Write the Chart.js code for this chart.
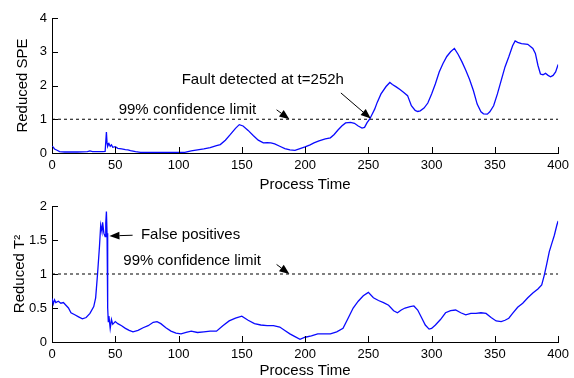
<!DOCTYPE html>
<html><head><meta charset="utf-8">
<script src="https://cdn.jsdelivr.net/npm/chart.js@4"></script>
<style>
html,body{margin:0;padding:0;background:#fff;}
#w{position:relative;width:574px;height:378px;overflow:hidden;}
canvas{position:absolute;left:0;}
</style></head><body>
<div id="w">
<canvas id="c1" width="574" height="192" style="top:0"></canvas>
<canvas id="c2" width="574" height="186" style="top:192px"></canvas>
</div>
<script>
// ---- data ----
const speTime = [0,1,2,4,6,10,20,28,30,32,40,42,43,43.5,44,45,46,47,48,50,52,55,58,60,62,66,70,80,100,105,110,115,120,125,130,133,137,141,145,148,151,155,159,163,167,170,173,176,180,184,188,192,196,200,204,207,211,216,220,223,226,229,232,236,239,242,245,247,249,251,253,255,257,260,264,267,269,272,275,278,281,284,287,289,291,294,297,300,303,306,309,312,315,318,321,324,327,330,333,336,339,341,344,346,349,352,355,358,361,364,366,368,371,376,380,382,384,386,388,390,392,394,396,398,400];
const speVal  = [0.20,0.17,0.12,0.08,0.04,0.03,0.03,0.04,0.06,0.04,0.04,0.05,0.62,0.30,0.20,0.28,0.20,0.24,0.17,0.19,0.14,0.12,0.10,0.09,0.07,0.04,0.02,0.02,0.02,0.02,0.06,0.09,0.12,0.16,0.22,0.25,0.38,0.55,0.73,0.84,0.80,0.67,0.52,0.38,0.30,0.31,0.30,0.27,0.20,0.13,0.09,0.08,0.13,0.18,0.24,0.30,0.36,0.42,0.45,0.55,0.68,0.80,0.89,0.91,0.88,0.80,0.74,0.76,0.90,1.00,1.15,1.30,1.50,1.75,1.97,2.09,2.03,1.96,1.88,1.79,1.70,1.40,1.26,1.23,1.25,1.33,1.48,1.75,2.05,2.40,2.65,2.86,3.00,3.10,2.92,2.70,2.45,2.18,1.85,1.45,1.22,1.16,1.15,1.22,1.40,1.75,2.15,2.55,2.85,3.18,3.32,3.28,3.24,3.22,3.10,2.95,2.60,2.34,2.32,2.36,2.30,2.26,2.30,2.40,2.62];

const t2Time = [0,1,2,3,5,7,9,11,13,15,18,21,24,27,30,33,34.5,36,37.5,38.5,39.5,40,41,42,42.5,43,43.5,44,44.5,45,46,47,48,50,52,55,58,61,64,68,72,76,80,83,86,90,94,98,102,106,110,115,120,125,130,135,140,145,150,155,160,165,170,175,180,184,188,192,196,200,205,210,215,220,225,230,234,238,242,246,250,254,258,262,266,270,273,276,279,283,286,289,292,295,298,300,303,307,311,315,319,323,327,331,335,339,343,347,351,355,358,361,364,368,372,376,380,384,387,389,391,393,395,397,399,400];
const t2Val  = [0.64,0.56,0.62,0.58,0.60,0.57,0.58,0.54,0.50,0.43,0.40,0.37,0.34,0.36,0.42,0.52,0.65,1.00,1.40,1.72,1.62,1.76,1.60,1.55,1.75,1.92,1.60,0.50,0.30,0.38,0.20,0.33,0.26,0.30,0.27,0.24,0.20,0.17,0.15,0.17,0.21,0.24,0.29,0.30,0.27,0.21,0.16,0.13,0.12,0.14,0.16,0.14,0.15,0.16,0.16,0.24,0.31,0.35,0.38,0.32,0.27,0.25,0.24,0.24,0.22,0.17,0.12,0.08,0.04,0.07,0.09,0.12,0.12,0.12,0.15,0.20,0.35,0.50,0.60,0.68,0.73,0.65,0.61,0.58,0.54,0.46,0.43,0.47,0.50,0.52,0.53,0.47,0.36,0.25,0.19,0.20,0.25,0.33,0.43,0.46,0.47,0.43,0.40,0.42,0.42,0.43,0.42,0.36,0.31,0.30,0.32,0.35,0.42,0.51,0.57,0.65,0.72,0.78,0.84,0.98,1.15,1.33,1.45,1.57,1.72,1.78];

const confLimit = 1;
const xTicks = [0,50,100,150,200,250,300,350,400];
const speTicks = [0,1,2,3,4];
const t2Ticks = [0,0.5,1,1.5,2];
const xTitle = 'Process Time';
const speTitle = 'Reduced SPE';
const t2Title = 'Reduced T\u00B2';
const limitLabel = '99% confidence limit';
const faultLabel = 'Fault detected at t=252h';
const fpLabel = 'False positives';

// ---- drawing ----
const FONT = '"Liberation Sans", Arial, sans-serif';
const pts = (ts, vs) => ts.map((t, i) => ({x: t, y: vs[i]}));

const inTicks = {id: 'inTicks', afterDraw(chart) {
  const {ctx, chartArea: a, scales: {x, y}} = chart;
  ctx.save(); ctx.strokeStyle = '#000'; ctx.lineWidth = 1; ctx.beginPath();
  x.ticks.forEach(t => { const p = Math.round(x.getPixelForValue(t.value)) + 0.5; ctx.moveTo(p, a.bottom); ctx.lineTo(p, a.bottom - 6); });
  y.ticks.forEach(t => { const p = Math.round(y.getPixelForValue(t.value)) + 0.5; ctx.moveTo(a.left, p); ctx.lineTo(a.left + 6, p); });
  ctx.stroke(); ctx.restore();
}};

const notes = {id: 'notes', afterDraw(chart, args, opts) {
  const {ctx, scales: {x, y}} = chart;
  ctx.save();
  ctx.fillStyle = '#000'; ctx.strokeStyle = '#000';
  ctx.font = '15px ' + FONT; ctx.textBaseline = 'middle'; ctx.textAlign = 'left';
  (opts.texts || []).forEach(n => ctx.fillText(n.text, x.getPixelForValue(n.x), y.getPixelForValue(n.y)));
  (opts.arrows || []).forEach(ar => {
    const x0 = x.getPixelForValue(ar.from[0]), y0 = y.getPixelForValue(ar.from[1]);
    const x1 = x.getPixelForValue(ar.to[0]), y1 = y.getPixelForValue(ar.to[1]);
    const ang = Math.atan2(y1 - y0, x1 - x0), L = 10, W = 4;
    ctx.lineWidth = 1; ctx.beginPath(); ctx.moveTo(x0, y0); ctx.lineTo(x1 - L * Math.cos(ang), y1 - L * Math.sin(ang)); ctx.stroke();
    ctx.beginPath(); ctx.moveTo(x1, y1);
    ctx.lineTo(x1 - L * Math.cos(ang) - W * Math.sin(ang), y1 - L * Math.sin(ang) + W * Math.cos(ang));
    ctx.lineTo(x1 - L * Math.cos(ang) + W * Math.sin(ang), y1 - L * Math.sin(ang) - W * Math.cos(ang));
    ctx.closePath(); ctx.fill();
  });
  ctx.restore();
}};

function make(id, ts, vs, yTicks, yMax, yTitle, padTop, xH, titlePad, notesOpts) {
  return new Chart(document.getElementById(id), {
    type: 'line',
    data: {datasets: [
      {data: pts(ts, vs), borderColor: 'rgb(10,10,255)', borderWidth: 1.3, pointRadius: 0, tension: 0, fill: false},
      {data: [{x: 0, y: confLimit}, {x: 400, y: confLimit}], borderColor: '#000', borderWidth: 1, borderDash: [3, 3], pointRadius: 0}
    ]},
    options: {
      responsive: false, animation: false, devicePixelRatio: 1,
      layout: {padding: {top: padTop, right: 13, left: 0, bottom: 0}},
      plugins: {legend: {display: false}, tooltip: {enabled: false}, notes: notesOpts},
      scales: {
        x: {type: 'linear', min: 0, max: 400,
          afterBuildTicks: s => { s.ticks = xTicks.map(v => ({value: v})); },
          afterFit: s => { s.height = xH; },
          grid: {display: false, drawTicks: false}, border: {display: true, color: '#000', width: 1},
          ticks: {color: '#000', font: {family: FONT, size: 13}, padding: 5, maxRotation: 0, autoSkip: false, callback: v => String(v)},
          title: {display: true, text: xTitle, color: '#000', font: {family: FONT, size: 15, lineHeight: 1}, padding: {top: 0, bottom: 0}}
        },
        y: {type: 'linear', min: 0, max: yMax,
          afterBuildTicks: s => { s.ticks = yTicks.map(v => ({value: v})); },
          afterFit: s => { s.width = 52; },
          grid: {display: false, drawTicks: false}, border: {display: true, color: '#000', width: 1},
          ticks: {color: '#000', font: {family: FONT, size: 13}, padding: 5, autoSkip: false, callback: v => String(v)},
          title: {display: true, text: yTitle, color: '#000', font: {family: FONT, size: 15, lineHeight: 1}, padding: {top: titlePad, bottom: 0}}
        }
      }
    },
    plugins: [inTicks, notes]
  });
}

make('c1', speTime, speVal, speTicks, 4, speTitle, 18, 39, 15, {
  texts: [{x: 52.7, y: 1.28, text: limitLabel}, {x: 102.5, y: 2.17, text: faultLabel}],
  arrows: [{from: [177.5, 1.28], to: [187.6, 1.0]}, {from: [228.3, 1.78], to: [251.9, 1.02]}]
});
make('c2', t2Time, t2Val, t2Ticks, 2, t2Title, 14, 36, 12, {
  texts: [{x: 70.3, y: 1.58, text: fpLabel}, {x: 56.4, y: 1.19, text: limitLabel}],
  arrows: [{from: [63.7, 1.57], to: [45.4, 1.56]}, {from: [177.5, 1.14], to: [187.6, 1.0]}]
});
</script>
</body></html>
